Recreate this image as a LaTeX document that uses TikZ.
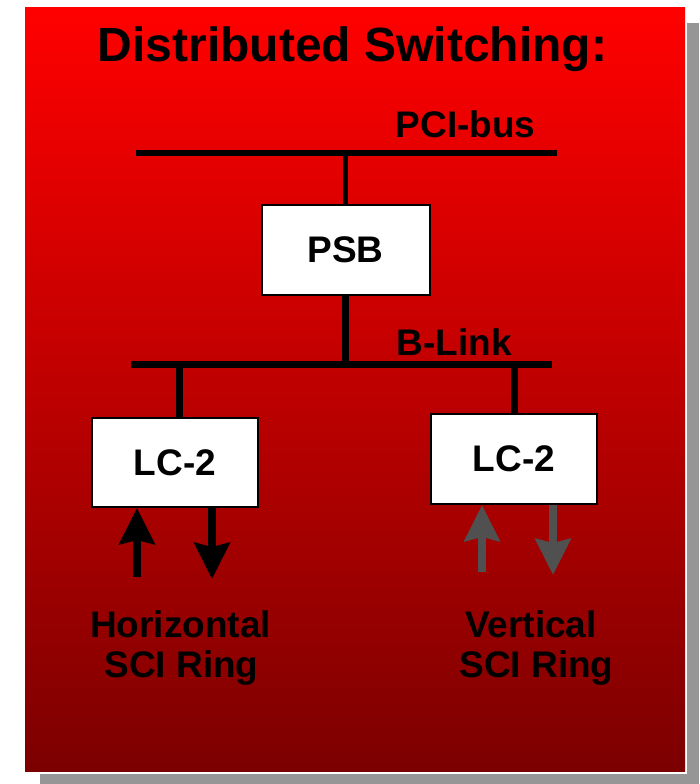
\documentclass[tikz,border=0pt]{standalone}
\usepackage{fontspec}
\setmainfont{Liberation Sans}
\usetikzlibrary{arrows.meta}
\definecolor{shadowgray}{RGB}{150,150,150}
\definecolor{darkred}{RGB}{124,0,0}
\definecolor{arrowgray}{RGB}{80,80,80}
\tikzset{
  box/.style={draw=black, line width=2pt, fill=white, inner sep=0pt,
    font=\fontsize{37}{40}\selectfont\bfseries},
  bus/.style={line width=6pt, black},
  drop/.style={line width=7pt, black},
  lbl/.style={inner sep=0pt, font=\fontsize{37}{40}\selectfont\bfseries},
  blockarrow/.style={line width=8pt, -{Stealth[length=36pt,width=35pt,inset=4pt]}}
}
\begin{document}
\begin{tikzpicture}[x=1pt,y=-1pt]
\useasboundingbox (0,0) rectangle (699,784);
% shadow and panel
\fill[shadowgray] (40,23) rectangle (699,784);
\fill[white] (23,6) rectangle (687,773.5);
\shade[top color=red, bottom color=darkred] (25,8) rectangle (685,771);
% title
\node[lbl, font=\fontsize{48}{52}\selectfont\bfseries, anchor=base] (title) at (352.5,61.7) {Distributed Switching:};
% PCI bus
\coordinate (pciL) at (136,153);
\coordinate (pciR) at (557,153);
\draw[bus] (pciL) -- (pciR);
\node[lbl, anchor=base west] (pcilbl) at (395.5,137) {PCI-bus};
% PSB
\node[box, minimum width=168pt, minimum height=90pt] (psb) at (345.5,249.5) {PSB};
\draw[line width=5.5pt] (pciL -| psb.north) -- (psb.north);
% B-Link
\coordinate (blL) at (131,364);
\coordinate (blR) at (552,364);
\draw[line width=7pt] (blL) -- (blR);
\node[lbl, anchor=base west] (bllbl) at (396.3,355) {B-Link};
\draw[drop] (psb.south) -- (blL -| psb.south);
% LC-2 boxes
\node[box, minimum width=166pt, minimum height=89pt] (lc1) at (175,462.5) {LC-2};
\node[box, minimum width=166pt, minimum height=90pt] (lc2) at (514,459) {LC-2};
\coordinate (d1) at (179,364);
\coordinate (d2) at (514,364);
\draw[drop] (d1) -- (d1 |- lc1.north);
\draw[drop] (d2) -- (lc2.north);
% arrows left (black)
\coordinate (a1) at (137,577);
\coordinate (a2) at (212,508);
\coordinate (a2tip) at (212,579);
\draw[blockarrow, black] (a1) -- (a1 |- lc1.south);
\draw[blockarrow, black] (a2 |- lc1.south) -- (a2tip);
% arrows right (gray)
\coordinate (b1) at (482,572);
\coordinate (b2) at (553,505);
\coordinate (b2tip) at (553,575);
\draw[blockarrow, arrowgray] (b1) -- (b1 |- lc2.south);
\draw[blockarrow, arrowgray] (b2 |- lc2.south) -- (b2tip);
% ring labels
\node[lbl, anchor=base] (hz1) at (180.5,637) {Horizontal};
\node[lbl, anchor=base] (hz2) at (181.5,677) {SCI Ring};
\node[lbl, anchor=base] (vt1) at (531,637) {Vertical};
\node[lbl, anchor=base] (vt2) at (536.5,677) {SCI Ring};
\end{tikzpicture}
\end{document}
